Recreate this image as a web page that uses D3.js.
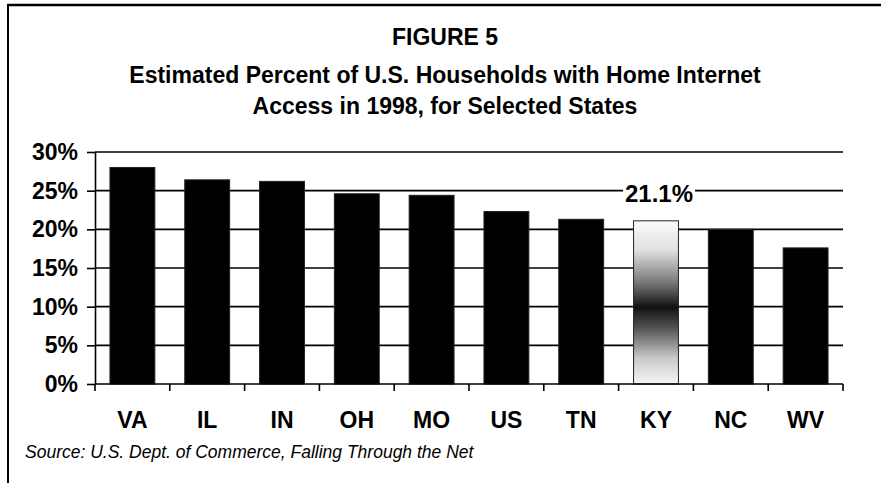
<!DOCTYPE html>
<html>
<head>
<meta charset="utf-8">
<script src="https://cdn.jsdelivr.net/npm/d3@7"></script>
<style>
  body { margin: 0; background: #fff; }
  svg { display: block; font-family: "Liberation Sans", Arial, sans-serif; }
</style>
</head>
<body>
<svg id="chart"></svg>
<script>
const states = ['VA', 'IL', 'IN', 'OH', 'MO', 'US', 'TN', 'KY', 'NC', 'WV'];
const pct = [28.0, 26.4, 26.2, 24.6, 24.4, 22.3, 21.3, 21.1, 20.0, 17.6];
const yTicks = [0, 5, 10, 15, 20, 25, 30];
const highlight = 'KY';
const titleLines = [
    'FIGURE 5',
    'Estimated Percent of U.S. Households with Home Internet',
    'Access in 1998, for Selected States'
];
const source = 'Source: U.S. Dept. of Commerce, Falling Through the Net';

const width = 881, height = 483;
const margin = {top: 152, right: 38, bottom: 99, left: 95};

const svg = d3.select('#chart')
    .attr('width', width)
    .attr('height', height);

// frame (only top and left edges are visible in the crop)
svg.append('line')
    .attr('x1', 7).attr('x2', width)
    .attr('y1', 5).attr('y2', 5)
    .attr('stroke', '#000').attr('stroke-width', 2.5);
svg.append('line')
    .attr('x1', 8).attr('x2', 8)
    .attr('y1', 4).attr('y2', height)
    .attr('stroke', '#000').attr('stroke-width', 2);

// title
const titleY = [45, 83, 114];
svg.selectAll('.title')
    .data(titleLines)
    .join('text')
    .attr('class', 'title')
    .attr('x', 445)
    .attr('y', (d, i) => titleY[i])
    .attr('text-anchor', 'middle')
    .style('font-size', '23px')
    .style('font-weight', 'bold')
    .text(d => d);

const inner_width = width - margin.left - margin.right;
const inner_height = height - margin.top - margin.bottom;

const chart = svg.append('g')
    .attr('transform', `translate(${margin.left}, ${margin.top})`);

const xscale = d3.scaleBand()
    .domain(states)
    .range([0, inner_width])
    .paddingInner(0.4)
    .paddingOuter(0.2);

const yscale = d3.scaleLinear()
    .domain([0, 30])
    .range([inner_height, 0]);

// gridlines
chart.selectAll('.grid')
    .data(yTicks.filter(d => d > 0))
    .join('line')
    .attr('class', 'grid')
    .attr('x1', 0).attr('x2', inner_width)
    .attr('y1', d => yscale(d)).attr('y2', d => yscale(d))
    .attr('stroke', '#000')
    .attr('stroke-width', 1.6);

// gradient for the highlighted bar: light at both ends, dark in the middle
const grad = svg.append('defs').append('linearGradient')
    .attr('id', 'hl')
    .attr('x1', 0).attr('x2', 0).attr('y1', 0).attr('y2', 1);
[['0%', '#fbfbfb'], ['18%', '#e0e0e0'], ['38%', '#777'], ['53%', '#111'],
 ['66%', '#555'], ['84%', '#c8c8c8'], ['100%', '#f6f6f6']]
    .forEach(([o, c]) => grad.append('stop').attr('offset', o).attr('stop-color', c));

const data = states.map((s, i) => ({key: s, value: pct[i]}));

chart.selectAll('.bar')
    .data(data)
    .join('rect')
    .attr('class', 'bar')
    .attr('x', d => xscale(d.key))
    .attr('y', d => yscale(d.value))
    .attr('width', xscale.bandwidth())
    .attr('height', d => inner_height - yscale(d.value))
    .attr('fill', d => d.key === highlight ? 'url(#hl)' : '#000')
    .attr('stroke', '#222')
    .attr('stroke-width', 1);

// axes
const yaxis = d3.axisLeft(yscale)
    .tickValues(yTicks)
    .tickFormat(d => d + '%')
    .tickSize(8)
    .tickSizeOuter(0)
    .tickPadding(9);

const yg = chart.append('g').call(yaxis);
yg.selectAll('text')
    .style('font-size', '23px')
    .style('font-weight', 'bold')
    .attr('fill', '#000');
yg.selectAll('line, path').attr('stroke', '#000').attr('stroke-width', 1.6);

const xg = chart.append('g')
    .attr('transform', `translate(0, ${inner_height})`);
xg.append('line')
    .attr('x1', 0).attr('x2', inner_width)
    .attr('y1', 0).attr('y2', 0)
    .attr('stroke', '#000').attr('stroke-width', 1.6);
xg.selectAll('.xtick')
    .data(d3.range(states.length + 1))
    .join('line')
    .attr('class', 'xtick')
    .attr('x1', i => i * xscale.step()).attr('x2', i => i * xscale.step())
    .attr('y1', 0).attr('y2', 7)
    .attr('stroke', '#000').attr('stroke-width', 1.6);
xg.selectAll('.xlabel')
    .data(states)
    .join('text')
    .attr('class', 'xlabel')
    .attr('x', d => xscale(d) + xscale.bandwidth() / 2)
    .attr('y', 44)
    .attr('text-anchor', 'middle')
    .style('font-size', '23px')
    .style('font-weight', 'bold')
    .text(d => d);

// value label for the highlighted state
const hl = data.find(d => d.key === highlight);
const label = chart.append('g')
    .attr('transform', `translate(${xscale(hl.key) + xscale.bandwidth() / 2 + 3}, ${yscale(hl.value) - 19})`);
const ltext = label.append('text')
    .attr('text-anchor', 'middle')
    .style('font-size', '24px')
    .style('font-weight', 'bold')
    .text(hl.value.toFixed(1) + '%');
const bb = ltext.node().getBBox();
label.insert('rect', 'text')
    .attr('x', bb.x - 2).attr('y', bb.y)
    .attr('width', bb.width + 4).attr('height', bb.height)
    .attr('fill', '#fff');

// source note
svg.append('text')
    .attr('x', 25)
    .attr('y', 458)
    .style('font-size', '17.5px')
    .style('font-style', 'italic')
    .text(source);
</script>
</body>
</html>
